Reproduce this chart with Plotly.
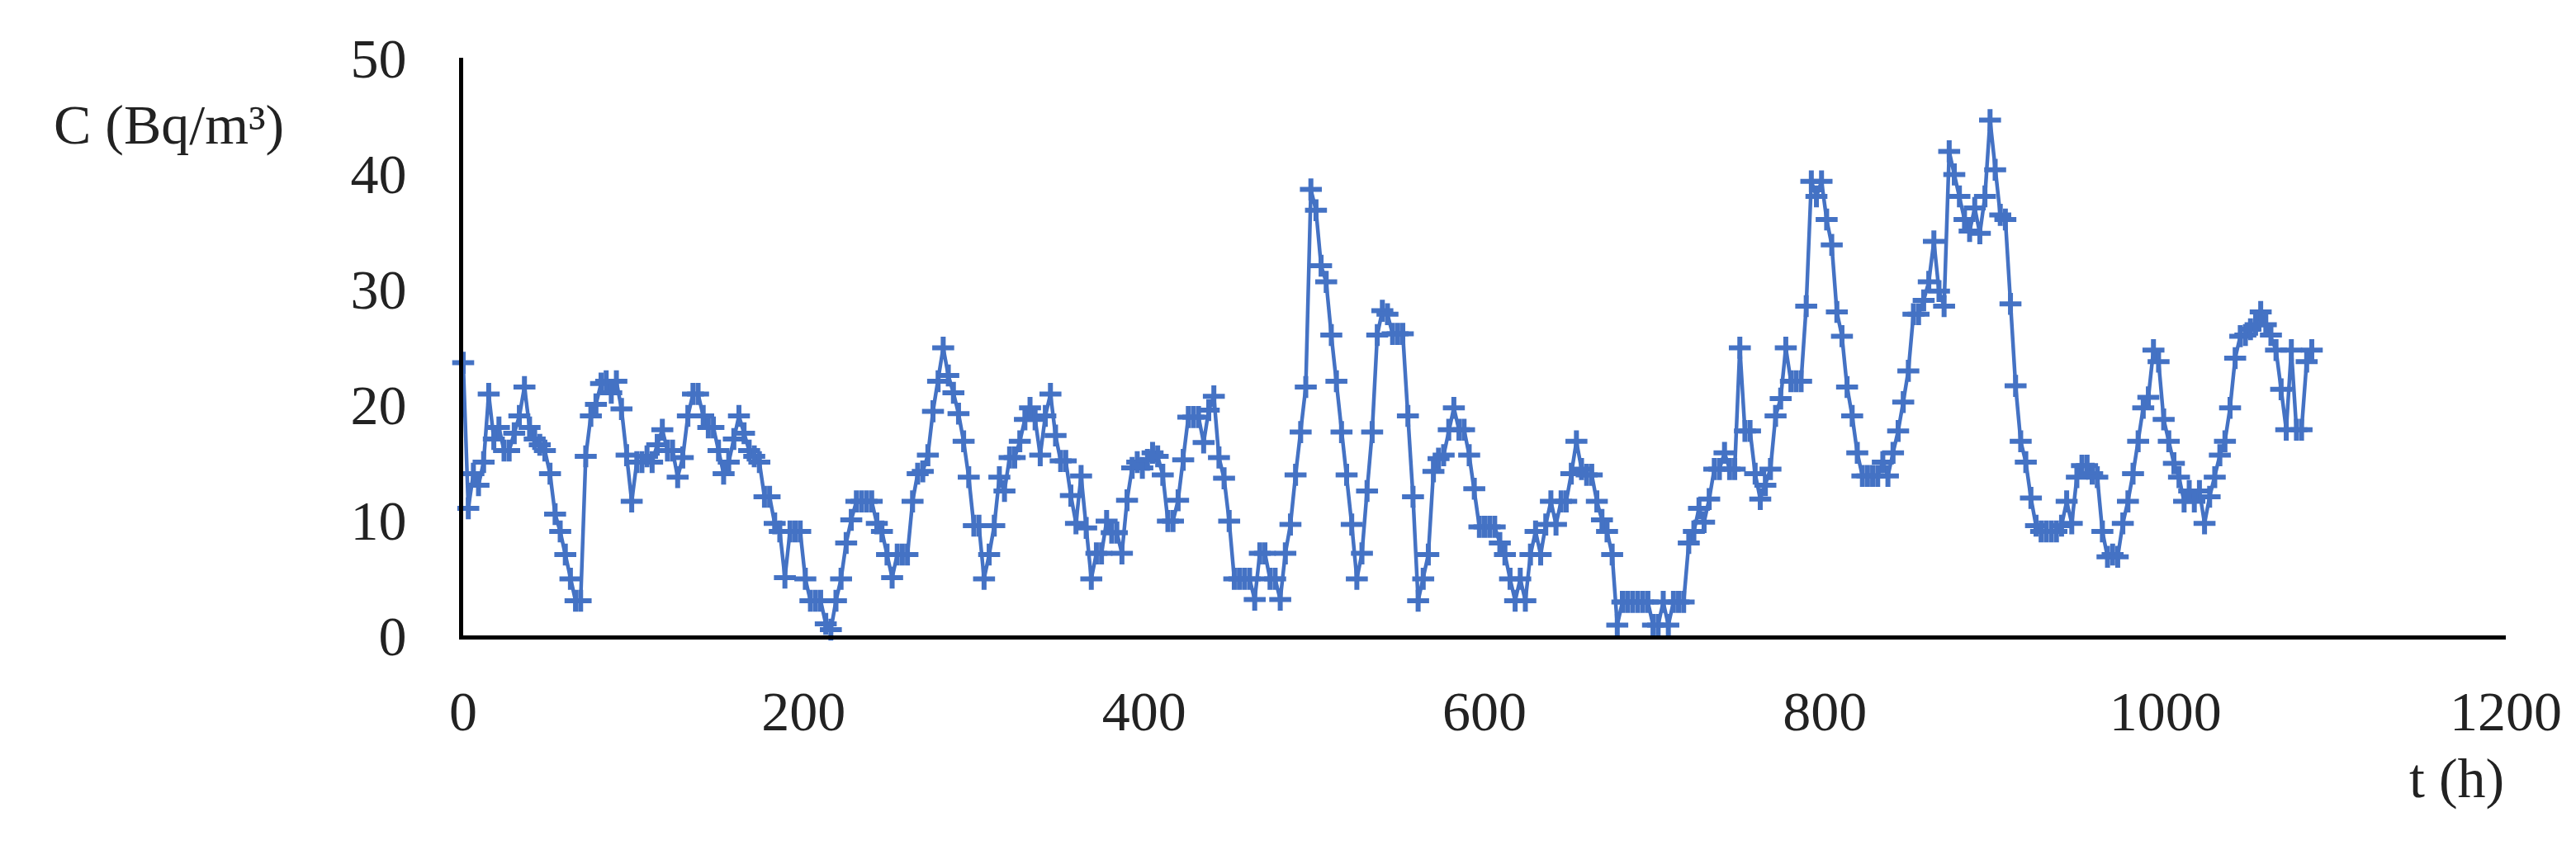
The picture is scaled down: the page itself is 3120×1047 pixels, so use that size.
import plotly.graph_objects as go

# hourly radon record, read every 3 h off the reference
hours = list(range(0, 1087, 3))
concentration = [
    23.6, 11, 14, 13, 15, 20.9, 17, 18, 16, 16,
    17.5, 19, 21.5, 18, 17, 16.5, 16, 14, 10.5, 9,
    7, 4.9, 3, 3, 15.5, 19, 20, 21.8, 22, 21,
    22, 19.6, 15.6, 11.6, 15, 15, 15.5, 15, 16.5, 17.8,
    16, 16, 13.7, 15.4, 19, 20.9, 20.9, 19, 18, 18,
    16, 14, 15, 17, 19, 17.5, 16, 15.5, 15, 12,
    12, 9.7, 9, 5, 9, 9, 9, 4.9, 3, 3,
    3, 1, 0.5, 3, 4.9, 8, 10, 11.6, 11.6, 11.6,
    11.6, 9.7, 9, 7, 5, 7, 7, 7, 11.6, 14,
    14.2, 15.6, 19.4, 22, 24.9, 22.5, 21, 19.2, 16.8, 13.7,
    9.5, 9.5, 4.9, 7, 9.5, 13.7, 12.5, 15.4, 15.4, 16.8,
    18.7, 19.7, 18.7, 15.6, 19, 20.9, 17.3, 15.1, 15.1, 12.1,
    9.7, 13.8, 9.3, 4.9, 7.1, 7.1, 9.9, 8.9, 8.9, 7.1,
    11.7, 14.5, 15, 14.5, 15.2, 15.8, 15.5, 13.9, 9.9, 9.9,
    11.7, 15.2, 18.9, 18.9, 18.9, 16.7, 19.5, 20.7, 15.4, 13.6,
    9.9, 4.9, 4.9, 4.9, 4.9, 3.1, 7.1, 7.1, 4.9, 4.9,
    3.1, 7.1, 9.6, 13.9, 17.6, 21.5, 38.6, 36.8, 32, 30.6,
    26, 22, 17.6, 13.9, 9.6, 4.9, 7.1, 12.5, 17.6, 26,
    28.1, 27.8, 26.1, 26.1, 26.1, 19, 12, 3, 4.9, 7,
    14.2, 15.3, 15.6, 17.8, 19.7, 17.8, 17.8, 15.6, 12.7, 9.4,
    9.4, 9.4, 9.4, 8, 7, 4.9, 3, 4.9, 3, 7,
    9, 7, 9.6, 11.6, 9.6, 11.6, 11.6, 14, 16.8, 14.4,
    13.9, 13.9, 11.6, 10, 9, 7, 0.9, 2.9, 2.9, 2.9,
    2.9, 2.9, 2.9, 0.9, 0.9, 2.9, 0.9, 2.9, 2.9, 2.9,
    8, 9, 11, 9.8, 11.8, 14.4, 14.4, 15.8, 14.4, 14.4,
    24.9, 17.7, 17.7, 14, 11.8, 13, 14.4, 19, 20.5, 24.9,
    22, 22, 22, 28.5, 39.3, 38, 39.3, 36, 33.8, 28,
    25.9, 21.5, 19, 15.8, 13.8, 13.8, 13.8, 13.8, 15, 13.8,
    15.8, 17.7, 20.2, 22.9, 27.8, 27.8, 29, 30.6, 34.1, 29.8,
    28.5, 41.9, 39.9, 38, 36, 35, 37, 34.8, 38, 44.6,
    40.3, 36.4, 36, 28.7, 21.6, 16.8, 15, 11.9, 9.5, 9,
    9, 9, 9, 9.5, 11.6, 9.7, 13.7, 14.7, 14.7, 14,
    13.7, 9, 6.8, 7, 6.8, 9.7, 11.6, 14, 16.8, 19.7,
    20.6, 24.7, 23.7, 18.7, 16.8, 14.9, 13.7, 11.6, 12.5, 11.6,
    12.5, 9.7, 12, 13.7, 15.6, 16.8, 19.7, 24, 25.9, 26,
    26.5, 26.9, 28, 26.9, 26, 24.7, 21.3, 17.8, 24.7, 17.8,
    17.8, 23.7, 24.7,
]

x_ticks = [0, 200, 400, 600, 800, 1000, 1200]
y_ticks = [0, 10, 20, 30, 40, 50]

BLUE = '#4472C4'
FONT = 'Liberation Serif'

fig = go.Figure()
fig.add_trace(go.Scatter(
    x=hours,
    y=concentration,
    mode='lines+markers',
    line=dict(color=BLUE, width=4.5),
    marker=dict(symbol='cross-thin', size=19, line=dict(color=BLUE, width=6)),
    cliponaxis=False,
    showlegend=False
))

fig.update_layout(
    width=3120,
    height=1047,
    margin=dict(l=553, r=93, t=62, b=285),
    paper_bgcolor='white',
    plot_bgcolor='white',
    font=dict(family=FONT, size=68, color='#222222'),
    xaxis=dict(
        range=[0, 1200],
        tickvals=x_ticks,
        showgrid=False,
        zeroline=False,
        showline=True,
        linecolor='black',
        linewidth=5,
        ticks='',
        ticklabelstandoff=28
    ),
    yaxis=dict(
        range=[0, 50],
        tickvals=y_ticks,
        showgrid=False,
        zeroline=False,
        showline=True,
        linecolor='black',
        linewidth=5,
        ticks='',
        ticklabelstandoff=50
    ),
    annotations=[
        dict(text='C (Bq/m³)', xref='paper', yref='paper',
             x=-0.2013, y=0.885, xanchor='left', yanchor='middle',
             showarrow=False, font=dict(family=FONT, size=68, color='#222222')),
        dict(text='t (h)', xref='paper', yref='paper',
             x=1.0, y=-0.247, xanchor='right', yanchor='middle',
             showarrow=False, font=dict(family=FONT, size=68, color='#222222')),
    ]
)

fig.write_html("out.html")
